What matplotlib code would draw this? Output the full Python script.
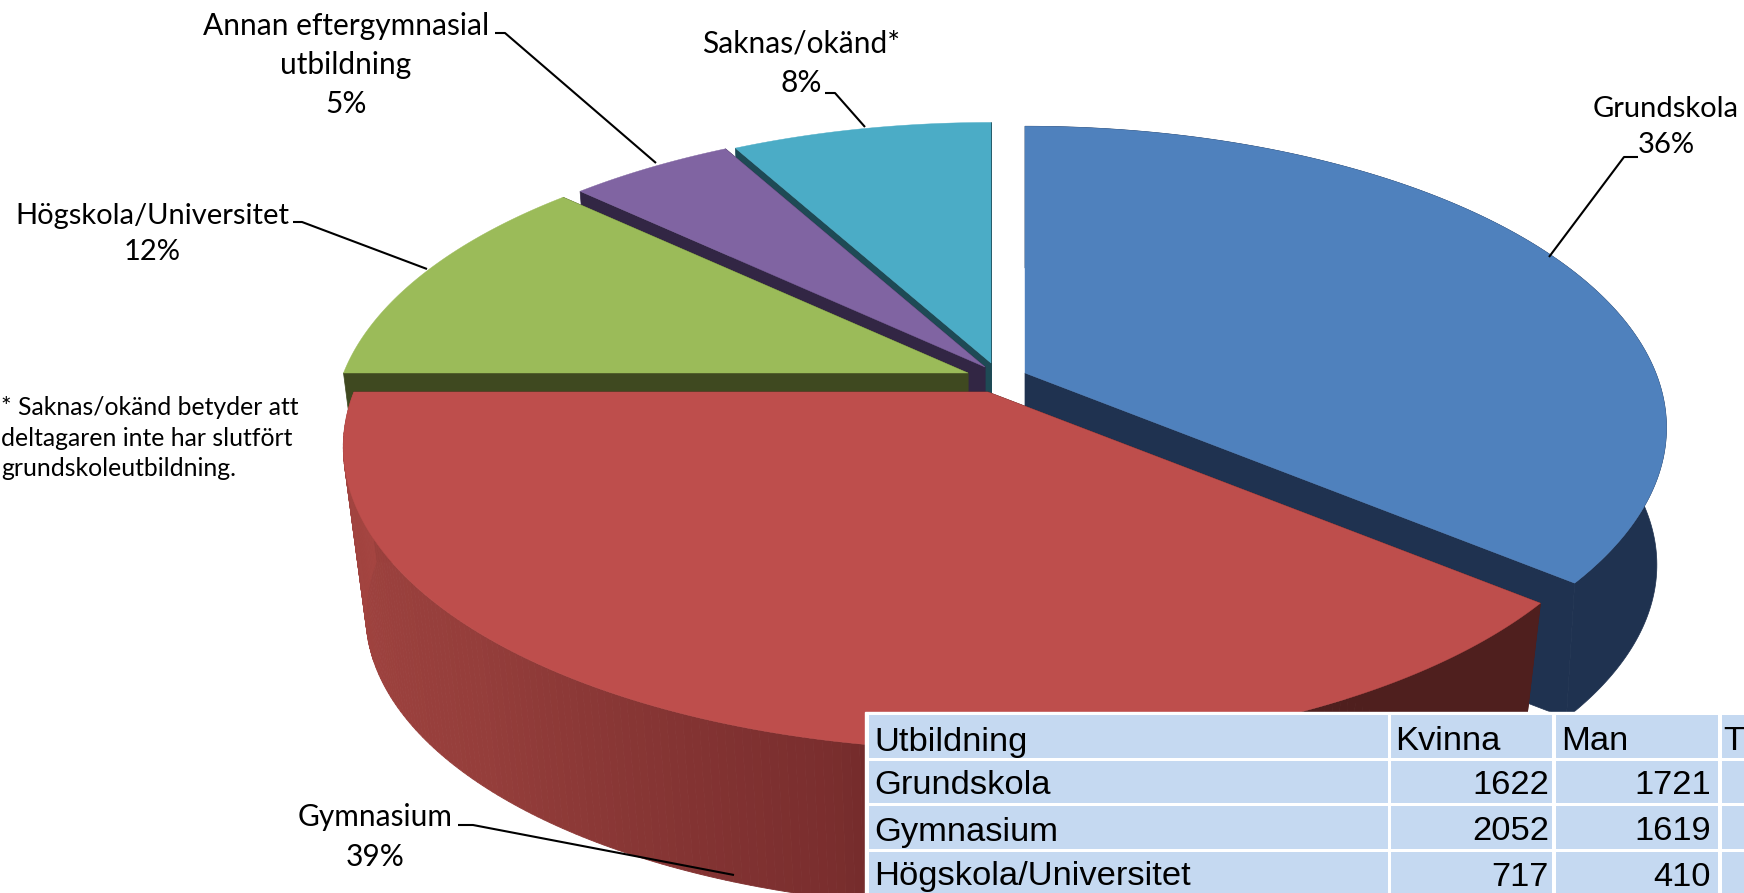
import matplotlib
matplotlib.use("Agg")
import matplotlib.pyplot as plt
from matplotlib.patches import Rectangle
import numpy as np

# Data
categories = ["Grundskola", "Gymnasium", "Högskola/Universitet",
              "Annan eftergymnasial\nutbildning", "Saknas/okänd*"]
shares = [36, 39, 12, 5, 8]

table_header = ["Utbildning", "Kvinna", "Man", "T"]
table_names = ["Grundskola", "Gymnasium", "Högskola/Universitet"]
table_kvinna = [1622, 2052, 717]
table_man = [1721, 1619, 410]

footnote = "* Saknas/okänd betyder att\ndeltagaren inte har slutfört\ngrundskoleutbildning."

# Look of the slices, same order as categories
top_colors = ["#4F81BD", "#BE4E4C", "#9BBB59", "#8064A2", "#4BACC6"]
side_colors = ["#1F3250", "#4F1F1E", "#3F4920", "#322644", "#1E4A55"]
apexes = [(1025, 373), (988, 392), (968, 373), (985, 367), (991, 363)]
sizes = [0.995, 1.0, 0.985, 0.985, 0.97]
depths = [138, 170, 145, 145, 145]
bottom_scales = [0.985, 0.965, 0.97, 0.97, 0.97]

# Tilted disc: far side squeezed, near side stretched
RX, RY, K = 634, 293, 0.1815


def project(theta, apex, size=1.0):
    t = np.radians(theta)
    u, v = np.sin(t), np.cos(t)
    w = 1 + K * v
    return apex[0] + size * RX * u / w, apex[1] - size * RY * v / w


fig = plt.figure(figsize=(17.44, 8.93), dpi=100)
ax = fig.add_axes([0, 0, 1, 1])
ax.set_xlim(0, 1744)
ax.set_ylim(893, 0)
ax.axis("off")

edges = np.concatenate([[0], np.cumsum(shares)]) * 3.6

# back slices first, the big red one last
for z, i in enumerate([4, 3, 2, 0, 1]):
    start, end = edges[i], edges[i + 1]
    apex, size = apexes[i], sizes[i]
    depth, low = depths[i], bottom_scales[i]
    low_apex = (apex[0], apex[1] + depth)
    arc = np.linspace(start, end, 200)
    tx, ty = project(arc, apex, size)
    bx, by = project(arc, low_apex, size * low)

    # cut faces
    for j in [0, -1]:
        ax.fill([apex[0], tx[j], bx[j], low_apex[0]],
                [apex[1], ty[j], by[j], low_apex[1]],
                color=side_colors[i], lw=0.5, zorder=2 + z)

    # outer wall
    if i == 1:
        # red wall darkens towards the right
        stops = [150, 172, 192, 225, 270]
        for k in range(len(arc) - 1):
            mid = (arc[k] + arc[k + 1]) / 2
            r = np.interp(mid, stops, [0x4F, 0x4F, 0x7A, 0x95, 0xA5])
            g = np.interp(mid, stops, [0x1F, 0x1F, 0x2E, 0x3E, 0x45])
            c = np.interp(mid, stops, [0x1E, 0x1E, 0x2E, 0x3B, 0x41])
            ax.fill([tx[k], tx[k + 1], bx[k + 1], bx[k]],
                    [ty[k], ty[k + 1], by[k + 1], by[k]],
                    color=(r / 255, g / 255, c / 255), lw=0.6, zorder=2.2 + z)
    elif i == 0:
        ax.fill(np.r_[tx, bx[::-1]], np.r_[ty, by[::-1]],
                color=side_colors[i], lw=0.5, zorder=2.2 + z)

    # top face
    ax.fill(np.r_[apex[0], tx], np.r_[apex[1], ty], color=top_colors[i],
            lw=0.3, zorder=2.5 + z)

# Leader lines
leaders = [
    ([1638, 1624, 1549], [157, 157, 257]),
    ([458, 473, 734], [825, 825, 875]),
    ([293, 302, 427], [222, 222, 269]),
    ([495, 505, 656], [33, 33, 163]),
    ([825, 835, 865], [93, 93, 127]),
]
for lx, ly in leaders:
    ax.plot(lx, ly, color="black", lw=1.5, zorder=10, solid_capstyle="butt")

# Labels
label_font = "Lato"
label_pos = [(1666, 127), (375, 837), (152, 234), (346, 65), (801, 63)]
label_size = [21, 21.5, 21, 21.5, 21.5]
for name, share, (x, y), fs in zip(categories, shares, label_pos, label_size):
    ax.text(x, y, f"{name}\n{share}%", ha="center", va="center", fontsize=fs,
            family=label_font, color="black", linespacing=1.49, zorder=11)

ax.text(1, 438, footnote, ha="left", va="center", fontsize=17.8,
        family=label_font, color="black", linespacing=1.41, zorder=11)

# Table
ax.add_patch(Rectangle((865, 712), 1744 - 865, 893 - 712, color="white", zorder=12))
col_x = [(869, 1388), (1391, 1552), (1556, 1718), (1722, 1744)]
row_y = [(715, 758), (761, 803), (806, 849), (852, 893)]
for y0, y1 in row_y:
    for x0, x1 in col_x:
        ax.add_patch(Rectangle((x0, y0), x1 - x0, y1 - y0, color="#C5D9F1", lw=0, zorder=13))

table_font = dict(family="Liberation Sans", fontsize=24.8, color="black", va="center", zorder=14)
text_y = [742, 786, 832, 877]
for x, head in zip([874, 1395, 1561, 1723], table_header):
    ax.text(x, text_y[0], head, ha="left", **table_font)
for name, kv, man, y in zip(table_names, table_kvinna, table_man, text_y[1:]):
    ax.text(874, y, name, ha="left", **table_font)
    ax.text(1549, y, str(kv), ha="right", **table_font)
    ax.text(1711, y, str(man), ha="right", **table_font)

plt.savefig("out.png", dpi=100)
